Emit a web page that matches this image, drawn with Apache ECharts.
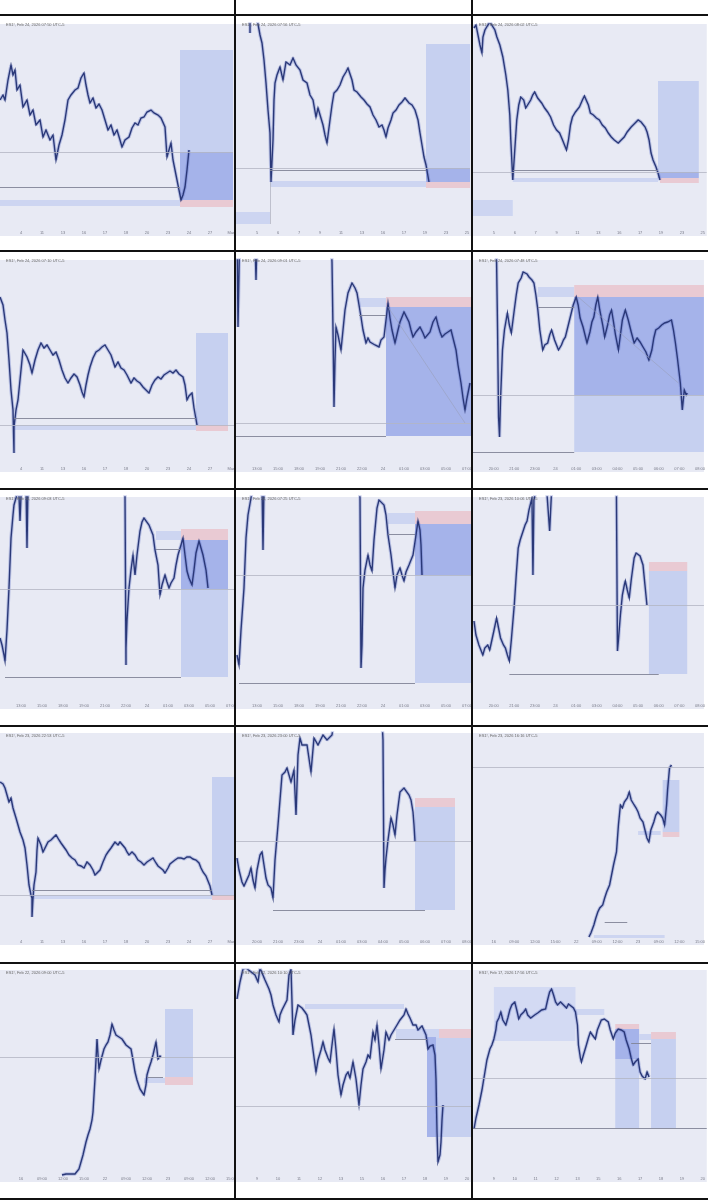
<!DOCTYPE html>
<html>
<head>
<meta charset="utf-8">
<script src="https://cdn.jsdelivr.net/npm/echarts@6.0.0/dist/echarts.min.js"></script>
<style>
  html, body { margin: 0; padding: 0; background: #fff; }
  #chart { width: 708px; height: 1200px; }
</style>
</head>
<body>
<div id="chart"></div>
<script>
// panel titles (symbol header of each screenshot)
const titles = [
  "ES1!, Feb 24, 2026 07:50 UTC-5", "ES1!, Feb 24, 2026 07:56 UTC-5", "ES1!, Feb 24, 2026 08:02 UTC-5",
  "ES1!, Feb 24, 2026 07:10 UTC-5", "ES1!, Feb 24, 2026 09:01 UTC-5", "ES1!, Feb 24, 2026 07:48 UTC-5",
  "ES1!, Feb 24, 2026 09:03 UTC-5", "ES1!, Feb 24, 2026 07:25 UTC-5", "ES1!, Feb 23, 2026 10:06 UTC-5",
  "ES1!, Feb 23, 2026 22:53 UTC-5", "ES1!, Feb 23, 2026 23:00 UTC-5", "ES1!, Feb 23, 2026 16:16 UTC-5",
  "ES1!, Feb 22, 2026 09:00 UTC-5", "ES1!, Feb 22, 2026 10:10 UTC-5", "ES1!, Feb 17, 2026 17:56 UTC-5"
];

// x-axis tick labels
const ticksDaily = ["4", "11", "13", "16", "17", "18", "20", "23", "24", "27", "Mar"];
const ticksDaily2 = ["5", "6", "7", "9", "11", "13", "16", "17", "19", "23", "25"];
const ticksIntraday = ["13:00", "15:00", "18:00", "19:00", "21:00", "22:00", "24", "01:00", "03:00", "05:00", "07:00"];
const ticksIntraday2 = ["20:00", "21:00", "23:00", "24", "01:00", "03:00", "04:00", "05:00", "06:00", "07:00", "08:00"];
const ticksIntraday3 = ["16", "09:00", "12:00", "15:00", "22", "09:00", "12:00", "23", "09:00", "12:00", "15:00"];
const ticksWeek = ["9", "10", "11", "12", "13", "15", "16", "17", "18", "19", "20"];

// price paths  [time, price]
const price1 = [[0,136],[3,141],[5,136],[8,156],[11,171],[13,161],[15,166],[17,146],[20,151],[23,129],[27,136],[30,121],[33,126],[36,111],[40,116],[43,99],[46,106],[50,96],[53,101],[56,76],[59,91],[62,101],[65,116],[68,136],[71,141],[75,146],[78,148],[81,158],[84,163],[86,151],[88,141],[90,133],[93,138],[96,128],[99,132],[102,126],[105,116],[108,106],[111,111],[114,101],[117,106],[120,96],[122,89],[125,96],[129,99],[132,108],[135,113],[138,111],[141,118],[144,119],[147,124],[151,126],[154,123],[158,121],[161,118],[165,109],[167,79],[169,86],[171,93],[173,76],[176,61],[178,51],[181,36],[183,41],[185,49],[187,66],[189,86]];
const price2 = [[14,203],[14,222],[20,222],[22,212],[24,201],[26,193],[28,176],[30,153],[32,126],[34,103],[35,54],[37,96],[38,136],[39,153],[41,161],[44,169],[47,156],[50,174],[54,171],[57,178],[60,171],[64,166],[67,156],[71,153],[74,141],[77,136],[80,119],[82,128],[84,126],[87,111],[89,101],[91,93],[94,116],[96,131],[98,143],[101,146],[104,151],[107,159],[110,164],[112,168],[114,169],[116,156],[118,146],[121,144],[125,139],[128,136],[131,132],[134,129],[137,121],[140,116],[143,109],[146,111],[148,106],[150,99],[152,108],[155,116],[157,123],[160,126],[163,131],[166,134],[169,138],[173,133],[176,131],[179,126],[182,116],[184,103],[186,91],[188,79],[190,71],[193,54]];
const price3 = [[1,208],[3,211],[5,201],[7,191],[9,183],[10,199],[12,206],[15,211],[17,214],[19,212],[22,206],[24,199],[27,191],[30,179],[33,161],[35,146],[37,121],[38,96],[40,56],[42,86],[44,116],[46,131],[48,139],[51,136],[53,128],[55,126],[58,136],[60,141],[62,144],[65,138],[67,136],[69,133],[72,128],[75,124],[78,119],[81,111],[84,106],[87,103],[90,96],[92,91],[94,86],[96,96],[98,111],[100,119],[103,124],[105,126],[107,129],[110,136],[112,140],[114,139],[116,131],[118,123],[121,121],[124,118],[127,116],[130,111],[133,108],[136,103],[139,99],[142,96],[146,93],[149,96],[152,99],[155,104],[159,109],[162,112],[166,116],[169,114],[173,109],[175,104],[177,96],[179,83],[181,76],[184,69],[186,63],[188,56]];
const price4 = [[0,175],[3,167],[5,152],[7,139],[9,112],[11,82],[13,62],[14,19],[14,45],[16,62],[18,72],[20,92],[22,112],[23,122],[25,120],[27,115],[30,107],[32,99],[35,112],[38,122],[41,129],[44,124],[47,127],[50,122],[53,117],[56,120],[59,112],[62,102],[65,94],[68,89],[71,94],[74,98],[77,95],[80,87],[82,80],[84,75],[86,87],[88,97],[90,105],[93,114],[96,120],[99,122],[102,125],[105,127],[108,122],[111,117],[115,105],[118,110],[121,104],[124,102],[127,97],[131,89],[134,94],[137,91],[140,89],[143,85],[146,82],[149,79],[152,87],[155,92],[158,95],[161,93],[164,97],[167,99],[170,101],[173,99],[176,102],[179,98],[183,95],[185,87],[187,72],[189,76],[192,79],[194,64],[197,47]];
const price5 = [[1,252],[2,145],[4,252],[19,232],[20,192],[21,232],[95,232],[96,210],[97,142],[98,65],[99,112],[100,145],[102,137],[105,122],[107,142],[109,162],[112,179],[114,184],[116,189],[119,184],[121,179],[123,167],[125,155],[127,142],[130,129],[132,134],[134,130],[136,132],[139,127],[143,125],[145,132],[148,135],[150,152],[152,169],[154,154],[156,142],[159,129],[162,142],[164,150],[166,155],[168,160],[170,162],[173,150],[175,142],[177,135],[180,140],[182,142],[184,145],[187,139],[189,134],[191,132],[194,140],[197,150],[200,155],[202,147],[204,140],[206,135],[209,138],[212,140],[215,142],[217,134],[220,122],[222,107],[225,89],[227,74],[229,62],[231,74],[234,89]];
const price6 = [[23,232],[24,210],[25,142],[26,55],[27,35],[28,72],[30,122],[32,142],[35,159],[37,147],[39,139],[42,162],[44,177],[46,189],[49,194],[51,200],[53,202],[55,198],[57,195],[60,192],[62,189],[64,177],[66,162],[68,142],[71,122],[73,127],[76,129],[78,137],[80,142],[83,132],[85,127],[87,122],[90,127],[92,132],[94,135],[97,147],[100,159],[102,167],[105,175],[107,167],[109,154],[112,145],[114,137],[116,129],[119,140],[121,150],[123,155],[125,167],[127,175],[129,162],[132,147],[134,135],[137,147],[139,157],[141,162],[143,150],[145,137],[148,122],[150,137],[152,152],[155,162],[158,152],[161,140],[164,129],[167,134],[170,130],[173,125],[176,120],[179,112],[182,122],[184,134],[186,142],[189,144],[192,147],[195,149],[198,150],[200,152],[202,152],[204,142],[206,129],[208,114],[211,89],[213,62],[214,72],[215,82],[217,77],[218,79]];
const price7 = [[0,71],[2,64],[4,54],[5,48],[7,79],[9,121],[11,171],[13,194],[14,204],[16,211],[18,219],[19,213],[20,188],[21,213],[22,224],[26,224],[27,161],[28,224],[124,224],[125,214],[126,44],[126,61],[127,89],[129,121],[131,139],[133,154],[135,134],[137,154],[140,178],[142,187],[144,191],[146,189],[149,184],[151,179],[153,174],[155,159],[158,144],[160,114],[162,124],[165,134],[167,127],[169,121],[171,126],[174,131],[176,144],[178,154],[181,164],[183,171],[185,154],[187,138],[189,131],[192,124],[194,139],[196,156],[199,168],[201,161],[203,154],[206,139],[208,121]];
const price8 = [[1,54],[3,44],[5,79],[8,121],[10,171],[12,194],[15,211],[17,224],[26,224],[27,159],[28,224],[123,224],[124,211],[125,41],[126,64],[127,121],[129,139],[132,154],[134,144],[136,138],[138,169],[141,201],[143,209],[145,211],[148,204],[150,194],[152,174],[155,154],[157,137],[159,121],[161,134],[164,141],[166,134],[168,128],[170,137],[173,144],[175,149],[177,154],[180,174],[182,188],[184,179],[185,164],[186,134]];
const price9 = [[1,88],[3,74],[6,64],[8,59],[10,54],[12,61],[15,64],[17,59],[19,61],[21,77],[24,91],[26,81],[28,71],[31,64],[33,61],[35,54],[37,48],[39,69],[42,104],[44,134],[46,161],[48,169],[51,178],[53,184],[55,188],[57,199],[60,211],[61,134],[62,209],[64,219],[75,219],[78,178],[80,219],[146,219],[146,209],[147,58],[148,69],[150,94],[152,114],[154,124],[155,128],[157,119],[159,111],[161,129],[164,151],[166,156],[168,158],[170,153],[173,144],[175,124],[177,104]];
const price10 = [[0,163],[3,161],[5,157],[7,150],[9,143],[11,147],[13,137],[16,127],[18,120],[20,113],[23,105],[25,97],[27,80],[29,60],[31,50],[32,47],[32,28],[33,47],[34,60],[36,73],[37,95],[38,107],[41,100],[43,93],[45,93],[48,103],[51,105],[53,107],[56,110],[59,105],[61,102],[63,100],[66,95],[69,90],[72,87],[75,85],[78,80],[81,79],[84,77],[87,83],[90,80],[93,75],[95,70],[97,68],[100,75],[103,83],[106,90],[108,93],[111,97],[113,100],[115,103],[118,100],[120,103],[122,103],[125,97],[127,93],[129,90],[132,93],[135,90],[138,85],[141,83],[144,80],[147,83],[150,85],[153,87],[156,82],[158,79],[160,77],[163,75],[165,72],[168,77],[170,81],[172,83],[175,85],[178,87],[181,87],[184,86],[187,88],[190,88],[193,86],[196,85],[199,82],[201,77],[203,73],[206,69],[208,67],[210,59],[212,50]];
const price11 = [[1,87],[3,75],[6,63],[8,59],[10,57],[13,70],[15,77],[17,65],[19,57],[21,75],[24,90],[26,93],[28,80],[30,67],[32,60],[35,57],[37,47],[39,85],[42,120],[44,145],[46,170],[49,173],[51,177],[53,170],[55,163],[58,175],[60,130],[62,190],[64,207],[66,200],[71,200],[75,173],[78,207],[82,200],[87,210],[91,205],[96,210],[98,225],[146,225],[147,205],[148,57],[149,75],[150,87],[152,105],[155,127],[157,120],[159,110],[161,130],[164,153],[166,155],[168,157],[170,155],[173,150],[175,145],[177,133],[178,120],[179,103]];
const price12 = [[118,8],[120,12],[123,20],[125,27],[127,33],[129,37],[132,40],[134,47],[136,53],[139,60],[141,70],[143,80],[146,93],[148,120],[150,140],[152,137],[154,143],[157,147],[159,153],[161,145],[164,140],[166,137],[168,133],[170,127],[173,123],[175,115],[177,107],[179,103],[181,115],[184,123],[186,130],[188,133],[191,130],[193,127],[195,120],[197,140],[198,155],[200,177],[202,180]];
const price13 = [[62,7],[66,8],[70,8],[75,8],[77,10],[79,13],[81,20],[83,27],[86,40],[88,47],[90,53],[92,62],[93,70],[94,87],[95,103],[96,122],[97,143],[98,127],[99,113],[101,122],[104,133],[106,137],[108,140],[110,147],[112,158],[114,152],[116,147],[119,145],[122,143],[124,140],[126,137],[128,135],[131,133],[133,122],[135,110],[137,102],[140,93],[142,90],[144,87],[146,97],[147,107],[149,114],[151,120],[153,127],[156,140],[157,132],[158,123],[160,126],[161,125]];
const price14 = [[1,183],[4,200],[7,213],[10,214],[19,207],[22,200],[24,214],[29,202],[33,193],[35,187],[37,177],[40,167],[43,160],[44,167],[46,172],[48,173],[51,182],[53,207],[55,213],[57,147],[59,162],[62,177],[64,179],[66,174],[69,170],[71,167],[73,157],[75,147],[77,132],[80,110],[82,122],[85,132],[87,140],[89,132],[92,124],[94,120],[96,137],[98,153],[100,132],[102,107],[105,87],[107,97],[110,107],[112,110],[114,104],[117,120],[120,103],[123,77],[125,97],[127,113],[130,120],[132,127],[134,124],[137,150],[139,142],[141,157],[143,137],[145,113],[148,132],[150,150],[153,142],[155,147],[158,152],[161,157],[164,162],[168,167],[170,173],[172,168],[174,164],[177,157],[180,157],[182,152],[184,153],[186,156],[188,158],[190,147],[192,133],[194,136],[197,137],[199,127],[200,103],[201,50],[202,20],[204,27],[205,40],[206,62],[207,77]];
const price15 = [[1,53],[3,64],[6,77],[9,92],[12,110],[14,122],[17,133],[19,137],[21,143],[23,152],[24,160],[26,164],[28,170],[30,162],[33,157],[35,164],[37,172],[39,177],[42,180],[44,172],[46,163],[48,167],[51,170],[53,173],[55,167],[58,164],[60,163],[62,167],[65,169],[67,170],[69,172],[71,172],[73,173],[75,182],[77,190],[79,193],[81,187],[83,180],[85,177],[88,180],[91,177],[94,174],[96,178],[98,177],[101,174],[103,170],[105,157],[106,137],[108,124],[109,120],[111,127],[114,137],[116,144],[118,150],[120,147],[123,143],[125,152],[127,157],[129,162],[132,163],[134,162],[136,160],[138,152],[141,143],[143,149],[146,153],[149,152],[152,150],[154,142],[157,133],[159,124],[161,117],[163,120],[166,123],[167,116],[168,110],[170,106],[173,103],[175,110],[177,105]];

// position-tool zones  [time from, time to, price from, price to, kind]
const zones1 = [[180,233,36,186,"target"],[180,233,36,84,"filled"],[180,233,29,36,"stop"],[0,180,30,36,"band"]];
const zones2 = [[190,234,68,192,"target"],[190,234,54,68,"filled"],[190,234,48,54,"stop"],[34,190,49,55,"band"],[0,34,12,24,"band"]];
const zones3 = [[186,227,64,155,"target"],[186,227,58,64,"filled"],[188,227,53,58,"stop"],[40,186,54,58,"band"],[0,40,20,36,"band"]];
const zones4 = [[196,228,47,139,"target"],[196,228,41,47,"stop"],[14,196,42,47,"band"]];
const zones5 = [[123,150,165,174,"band"],[150,235,165,175,"stop"],[150,235,36,165,"filled"]];
const zones6 = [[66,103,175,185,"band"],[103,235,175,187,"stop"],[103,235,77,175,"filled"],[103,235,20,77,"target"]];
const zones7 = [[156,181,169,178,"band"],[181,228,169,180,"stop"],[181,228,120,169,"filled"],[181,228,32,120,"target"]];
const zones8 = [[152,179,185,196,"band"],[179,235,185,198,"stop"],[179,235,134,185,"filled"],[179,235,26,134,"target"]];
const zones9 = [[179,218,138,147,"stop"],[179,218,35,138,"target"]];
const zones10 = [[212,235,50,168,"target"],[212,235,45,50,"stop"],[32,212,46,50,"band"]];
const zones11 = [[179,219,138,147,"stop"],[179,219,35,138,"target"]];
const zones12 = [[193,210,113,165,"target"],[193,210,108,113,"stop"],[168,191,110,114,"band"],[123,195,7,10,"band"]];
const zones13 = [[165,193,105,173,"target"],[165,193,97,105,"stop"],[144,165,99,104,"band"]];
const zones14 = [[69,168,173,178,"band"],[160,191,143,153,"band"],[191,235,144,153,"stop"],[191,203,144,153,"band"],[200,235,45,144,"target"],[191,200,45,145,"filled"]];
const zones15 = [[21,103,141,195,"box"],[103,132,167,173,"band"],[143,167,153,158,"stop"],[143,167,123,153,"filled"],[143,167,54,123,"target"],[167,179,142,148,"band"],[179,204,143,150,"stop"],[179,204,54,143,"target"]];

// drawn lines  [time from, time to, price from, price to, kind]
const levels1 = [[0,233,84,84,"price"],[0,180,49,49,"level"]];
const levels2 = [[0,234,68,68,"price"],[34,190,66,66,"level"],[34,34,12,54,"price"]];
const levels3 = [[0,235,64,64,"price"],[40,186,66,66,"level"]];
const levels4 = [[0,235,47,47,"price"],[14,196,54,54,"level"]];
const levels5 = [[0,235,49,49,"price"],[0,150,36,36,"level"],[123,150,157,157,"level"],[152,229,165,49,"diag"]];
const levels6 = [[0,235,77,77,"price"],[0,103,20,20,"level"],[66,103,165,165,"level"],[107,209,175,89,"diag"]];
const levels7 = [[0,235,120,120,"price"],[5,181,32,32,"level"],[156,181,160,160,"level"]];
const levels8 = [[0,235,134,134,"price"],[3,179,26,26,"level"],[152,179,175,175,"level"]];
const levels9 = [[0,235,104,104,"price"],[37,189,35,35,"level"]];
const levels10 = [[0,235,50,50,"price"],[32,212,55,55,"level"]];
const levels11 = [[0,235,104,104,"price"],[37,189,35,35,"level"]];
const levels12 = [[0,235,178,178,"price"],[134,157,23,23,"level"]];
const levels13 = [[0,235,125,125,"price"],[147,163,105,105,"level"]];
const levels14 = [[0,235,76,76,"price"],[159,191,143,143,"level"]];
const levels15 = [[0,235,104,104,"price"],[0,235,54,54,"level"],[159,179,139,139,"level"]];

const prices = [price1, price2, price3, price4, price5, price6, price7, price8, price9, price10, price11, price12, price13, price14, price15];
const zones = [zones1, zones2, zones3, zones4, zones5, zones6, zones7, zones8, zones9, zones10, zones11, zones12, zones13, zones14, zones15];
const levels = [levels1, levels2, levels3, levels4, levels5, levels6, levels7, levels8, levels9, levels10, levels11, levels12, levels13, levels14, levels15];
const ticks = [ticksDaily, ticksDaily2, ticksDaily2, ticksDaily, ticksIntraday, ticksIntraday2, ticksIntraday, ticksIntraday, ticksIntraday2,
  ticksDaily, ticksIntraday2, ticksIntraday3, ticksIntraday3, ticksWeek, ticksWeek];

// layout
const COL_LEFT = [0, 236, 473];
const ROW_BOTTOM = [236, 472, 709, 945, 1182];
const DIVIDER_Y = [15, 251, 489, 726, 963, 1199];
const DIVIDER_X = [235, 472];
const PANEL_W = 235, PANEL_H = 212, TICK_STEP = 21;

const zoneColor = { target: "#c6d0f0", filled: "#a5b3ea", stop: "#e9cad3", band: "#cdd5f1", box: "#d3daf3" };
const levelStyle = {
  price: { color: "#b2b5c3", width: 0.8 },
  level: { color: "#808396", width: 0.9 },
  diag: { color: "#98a0bc", width: 0.6 }
};

const grid = [], xAxis = [], yAxis = [], series = [], title = [];

prices.forEach((price, i) => {
  const col = i % 3, row = Math.floor(i / 3);
  const tickLabels = ticks[i];
  grid.push({
    left: COL_LEFT[col], top: ROW_BOTTOM[row] - PANEL_H, width: PANEL_W, height: PANEL_H,
    show: true, backgroundColor: "#e8eaf4", borderWidth: 0
  });
  xAxis.push({
    gridIndex: i, type: "value", min: 0, max: PANEL_W, interval: TICK_STEP,
    axisLine: { show: false }, axisTick: { show: false }, splitLine: { show: false },
    axisLabel: {
      inside: true, margin: 1, fontSize: 4, color: "#7a7c8a",
      showMinLabel: false, showMaxLabel: false,
      formatter: v => tickLabels[Math.round(v / TICK_STEP) - 1] || ""
    }
  });
  yAxis.push({ gridIndex: i, type: "value", min: 0, max: PANEL_H, show: false });
  title.push({
    text: titles[i], left: COL_LEFT[col] + 1, top: DIVIDER_Y[row] + 3,
    textStyle: { fontSize: 4, fontWeight: "normal", color: "#666" }
  });
  // zones and drawn lines
  series.push({
    type: "line", xAxisIndex: i, yAxisIndex: i, data: [], z: 1, silent: true,
    markArea: {
      silent: true,
      data: zones[i].map(z => [
        { coord: [z[0], z[2]], itemStyle: { color: zoneColor[z[4]], opacity: 1 } },
        { coord: [z[1], z[3]] }
      ])
    },
    markLine: {
      silent: true, symbol: ["none", "none"], label: { show: false },
      data: levels[i].map(l => [
        { coord: [l[0], l[2]], lineStyle: Object.assign({ type: "solid" }, levelStyle[l[4]]) },
        { coord: [l[1], l[3]] }
      ])
    }
  });
  // soft candle wicks
  series.push({
    type: "line", xAxisIndex: i, yAxisIndex: i, data: price, showSymbol: false, silent: true, z: 2,
    lineStyle: { width: 3.4, color: "rgba(84,104,192,0.32)" }
  });
  // price path
  series.push({
    type: "line", xAxisIndex: i, yAxisIndex: i, data: price, showSymbol: false, silent: true, z: 3,
    lineStyle: { width: 1.4, color: "#2a3878", join: "miter" }
  });
});

const graphic = [];
DIVIDER_Y.forEach(y => graphic.push({ type: "rect", z: 100, shape: { x: 0, y: y - 1, width: 708, height: 2 }, style: { fill: "#111" } }));
DIVIDER_X.forEach(x => graphic.push({ type: "rect", z: 100, shape: { x: x - 1, y: 0, width: 2, height: 1200 }, style: { fill: "#111" } }));

const chart = echarts.init(document.getElementById("chart"));
chart.setOption({
  animation: false,
  backgroundColor: "#fff",
  title, grid, xAxis, yAxis, series, graphic
});
</script>
</body>
</html>
